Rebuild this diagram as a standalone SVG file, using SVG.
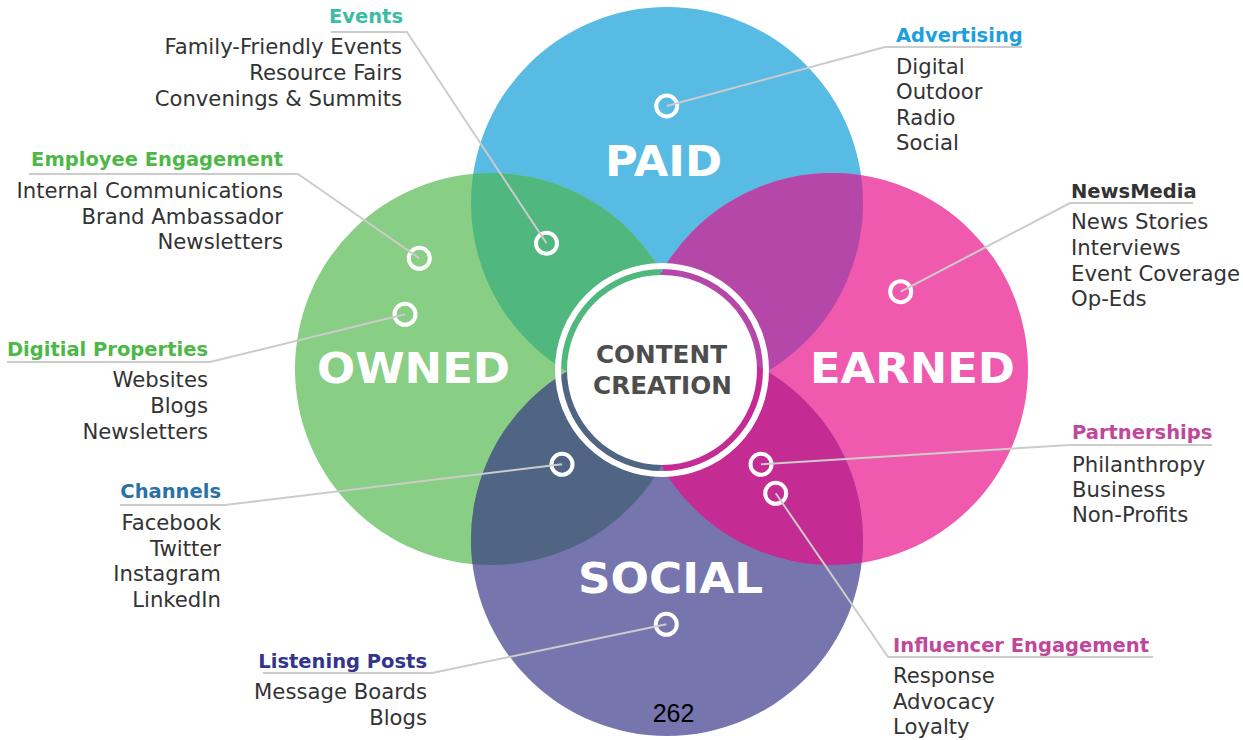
<svg xmlns="http://www.w3.org/2000/svg" width="1243" height="740" viewBox="0 0 1243 740">
  <style>
    .hd { font-family: "DejaVu Sans", "Liberation Sans", sans-serif; font-weight: bold; font-size: 19.5px; }
    .it { font-family: "DejaVu Sans", "Liberation Sans", sans-serif; font-size: 21.2px; fill: #333333; }
    .big { font-family: "DejaVu Sans", "Liberation Sans", sans-serif; font-weight: bold; font-size: 42.5px; fill: #ffffff; text-anchor: middle; }
    .ctr { font-family: "DejaVu Sans", "Liberation Sans", sans-serif; font-weight: bold; font-size: 24.7px; fill: #4d4d4d; text-anchor: middle; }
    .l { text-anchor: end; }
    .mk { fill: none; stroke: #ffffff; stroke-width: 4; }
    .ld { fill: none; stroke: #cccccc; stroke-width: 2; stroke-linejoin: round; }
  </style>
  <defs>
    <clipPath id="clipPaid"><circle cx="667" cy="203" r="196"/></clipPath>
    <clipPath id="clipSocial"><circle cx="667" cy="540" r="196"/></clipPath>
  </defs>

  <rect width="1243" height="740" fill="#ffffff"/>

  <!-- four channel circles -->
  <g id="paid">
    <circle cx="667" cy="203" r="196" fill="#58bbe4"/>
  </g>
  <g id="owned">
    <circle cx="491" cy="369" r="196" fill="#88ce84"/>
  </g>
  <g id="earned">
    <circle cx="832" cy="369" r="196" fill="#ef5aae"/>
  </g>
  <g id="social">
    <circle cx="667" cy="540" r="196" fill="#7775ae"/>
  </g>

  <!-- overlapping lenses -->
  <g id="overlaps">
    <circle cx="491" cy="369" r="196" fill="#50b87e" clip-path="url(#clipPaid)"/>
    <circle cx="832" cy="369" r="196" fill="#b547a8" clip-path="url(#clipPaid)"/>
    <circle cx="491" cy="369" r="196" fill="#4f6583" clip-path="url(#clipSocial)"/>
    <circle cx="832" cy="369" r="196" fill="#c42b93" clip-path="url(#clipSocial)"/>
  </g>

  <!-- circle titles -->
  <g id="titles">
    <text class="big" x="663.5" y="176" textLength="117" lengthAdjust="spacingAndGlyphs">PAID</text>
    <text class="big" x="413.5" y="383" textLength="193" lengthAdjust="spacingAndGlyphs">OWNED</text>
    <text class="big" x="912.5" y="383" textLength="205" lengthAdjust="spacingAndGlyphs">EARNED</text>
    <text class="big" x="670.5" y="593" textLength="185" lengthAdjust="spacingAndGlyphs">SOCIAL</text>
  </g>

  <!-- hub -->
  <g id="content-creation">
    <circle cx="662" cy="370" r="104" fill="none" stroke="#ffffff" stroke-width="6"/>
    <circle cx="662" cy="370" r="95" fill="#ffffff"/>
    <text class="ctr" x="661.5" y="363">CONTENT</text>
    <text class="ctr" x="662.5" y="394">CREATION</text>
  </g>

  <!-- callouts: marker + heading + items -->
  <g id="events">
    <circle class="mk" cx="546.5" cy="243.3" r="10.5"/>
    <text class="hd l" x="403" y="23" fill="#3dbca2">Events</text>
    <text class="it l" x="402" y="54">Family-Friendly Events</text>
    <text class="it l" x="402" y="80">Resource Fairs</text>
    <text class="it l" x="402" y="106">Convenings &amp; Summits</text>
  </g>
  <g id="employee-engagement">
    <circle class="mk" cx="419.3" cy="258.3" r="10.5"/>
    <text class="hd l" x="283" y="166" fill="#4db848">Employee Engagement</text>
    <text class="it l" x="283" y="198">Internal Communications</text>
    <text class="it l" x="283" y="224">Brand Ambassador</text>
    <text class="it l" x="283" y="249">Newsletters</text>
  </g>
  <g id="digital-properties">
    <circle class="mk" cx="405" cy="314.3" r="10.5"/>
    <text class="hd l" x="208" y="356" fill="#4db848">Digitial Properties</text>
    <text class="it l" x="208" y="387">Websites</text>
    <text class="it l" x="208" y="413">Blogs</text>
    <text class="it l" x="208" y="439">Newsletters</text>
  </g>
  <g id="channels">
    <circle class="mk" cx="562" cy="464.3" r="10.5"/>
    <text class="hd l" x="221" y="498" fill="#2b72a6">Channels</text>
    <text class="it l" x="221" y="530">Facebook</text>
    <text class="it l" x="221" y="556">Twitter</text>
    <text class="it l" x="221" y="581">Instagram</text>
    <text class="it l" x="221" y="607">LinkedIn</text>
  </g>
  <g id="listening-posts">
    <circle class="mk" cx="666.3" cy="624.3" r="10.5"/>
    <text class="hd l" x="427" y="668" fill="#33348e">Listening Posts</text>
    <text class="it l" x="427" y="699">Message Boards</text>
    <text class="it l" x="427" y="725">Blogs</text>
  </g>
  <g id="advertising">
    <circle class="mk" cx="666.7" cy="106" r="10.5"/>
    <text class="hd" x="896" y="42" fill="#1ea0dc">Advertising</text>
    <text class="it" x="896" y="74">Digital</text>
    <text class="it" x="896" y="99">Outdoor</text>
    <text class="it" x="896" y="125">Radio</text>
    <text class="it" x="896" y="150">Social</text>
  </g>
  <g id="newsmedia">
    <circle class="mk" cx="900.7" cy="291.7" r="10.5"/>
    <text class="hd" x="1071" y="198" fill="#333333">NewsMedia</text>
    <text class="it" x="1071" y="229">News Stories</text>
    <text class="it" x="1071" y="255">Interviews</text>
    <text class="it" x="1071" y="281">Event Coverage</text>
    <text class="it" x="1071" y="306">Op-Eds</text>
  </g>
  <g id="partnerships">
    <circle class="mk" cx="761" cy="464.3" r="10.5"/>
    <text class="hd" x="1072" y="439" fill="#c0479a">Partnerships</text>
    <text class="it" x="1072" y="472">Philanthropy</text>
    <text class="it" x="1072" y="497">Business</text>
    <text class="it" x="1072" y="522">Non-Profits</text>
  </g>
  <g id="influencer-engagement">
    <circle class="mk" cx="775.7" cy="493.3" r="10.5"/>
    <text class="hd" x="893" y="652" fill="#c0479a">Influencer Engagement</text>
    <text class="it" x="893" y="683">Response</text>
    <text class="it" x="893" y="709">Advocacy</text>
    <text class="it" x="893" y="734">Loyalty</text>
  </g>

  <!-- leader lines: underline under each heading, then a run to its marker -->
  <g id="connectors">
    <polyline class="ld" points="331,32 407,32 546.5,243.3"/>
    <polyline class="ld" points="29,174 298,174 419.3,258.3"/>
    <polyline class="ld" points="7,362 210,362 405,314.3"/>
    <polyline class="ld" points="120,505 225,505 562,464.3"/>
    <polyline class="ld" points="263,673 432,673 666.3,624.3"/>
    <polyline class="ld" points="1022,47 885,47 666.7,106"/>
    <polyline class="ld" points="1193,203 1070,203 900.7,291.7"/>
    <polyline class="ld" points="1212,445 1070,445 761,464.3"/>
    <polyline class="ld" points="1153,657 888,657 775.7,493.3"/>
  </g>

  <text x="673.5" y="722" font-family="Liberation Sans, Arial, sans-serif" font-size="25" fill="#000000" text-anchor="middle">262</text>
</svg>
